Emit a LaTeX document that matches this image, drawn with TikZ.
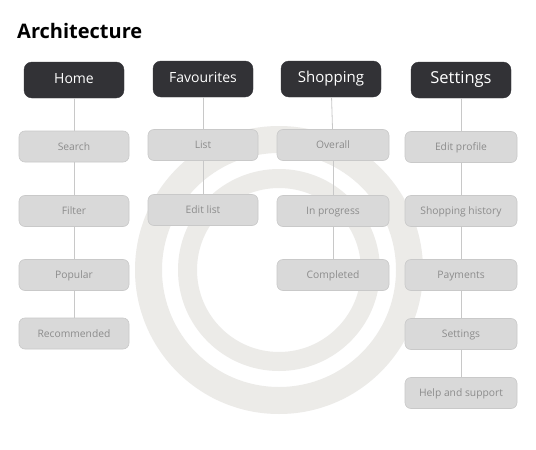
\documentclass[tikz,border=0pt]{standalone}
\usepackage{fontspec}
\setmainfont{Open Sans}
\definecolor{hdr}{HTML}{323236}
\definecolor{boxfill}{HTML}{D9D9D9}
\definecolor{boxline}{HTML}{C9C9C9}
\definecolor{boxtext}{HTML}{8C8C8C}
\definecolor{ring}{HTML}{ECEBE8}
\definecolor{link}{HTML}{C8C8C8}
\tikzset{
  header/.style={rectangle, rounded corners=8pt, fill=hdr, draw=hdr, text=white,
    minimum width=100pt, minimum height=36pt, inner sep=0pt, text height=0.71em, text depth=0pt},
  item/.style={rectangle, rounded corners=6pt, fill=boxfill, draw=boxline, line width=0.6pt,
    text=boxtext, minimum width=110pt, minimum height=31pt, inner sep=0pt,
    text height=0.71em, text depth=0pt, font=\fontsize{10.3}{12}\selectfont},
  link/.style={draw=link, line width=0.8pt},
}
\begin{document}
\begin{tikzpicture}[x=1pt,y=-1pt]
\useasboundingbox (0,0) rectangle (536,450);
\fill[white] (0,0) rectangle (536,450);
% background rings
\fill[ring, even odd rule] (279,270) circle (144) (279,270) circle (117);
\fill[ring, even odd rule] (279,270) circle (101) (279,270) circle (82);
% title
\node[anchor=base west, inner sep=0pt, font=\fontsize{20}{24}\selectfont\bfseries] (title) at (17,38) {Architecture};
% headers
\node[header, font=\fontsize{14}{16}\selectfont] (home) at (74,80) {Home};
\node[header, font=\fontsize{14}{16}\selectfont] (fav) at (203,79) {Favourites};
\node[header, font=\fontsize{15}{17}\selectfont] (shop) at (331,79) {Shopping};
\node[header, font=\fontsize{16.5}{18}\selectfont] (set) at (461,80) {Settings};
% column 1
\node[item] (search) at (74,146.5) {Search};
\node[item] (filter) at (74,211) {Filter};
\node[item] (popular) at (74,275) {Popular};
\node[item] (recom) at (74,333.5) {Recommended};
% column 2
\node[item] (list) at (203,145) {List};
\node[item] (editlist) at (203,210) {Edit list};
% column 3
\node[item, minimum width=112pt] (overall) at (333,145) {Overall};
\node[item, minimum width=112pt] (inprog) at (333,211) {In progress};
\node[item, minimum width=112pt] (completed) at (333,275) {Completed};
% column 4
\node[item, minimum width=112pt] (editprof) at (461,147) {Edit profile};
\node[item, minimum width=112pt] (shophist) at (461,211) {Shopping history};
\node[item, minimum width=112pt] (payments) at (461,275) {Payments};
\node[item, minimum width=112pt] (settings2) at (461,334) {Settings};
\node[item, minimum width=112pt] (help) at (461,393) {Help and support};
% connectors
\path[link] (home) -- (search);
\path[link] (search) -- (filter);
\path[link] (filter) -- (popular);
\path[link] (popular) -- (recom);
\path[link] (fav) -- (list);
\path[link] (list) -- (editlist);
\path[link] (shop) -- (overall);
\path[link] (overall) -- (inprog);
\path[link] (inprog) -- (completed);
\path[link] (set) -- (editprof);
\path[link] (editprof) -- (shophist);
\path[link] (shophist) -- (payments);
\path[link] (payments) -- (settings2);
\path[link] (settings2) -- (help);
\end{tikzpicture}
\end{document}
